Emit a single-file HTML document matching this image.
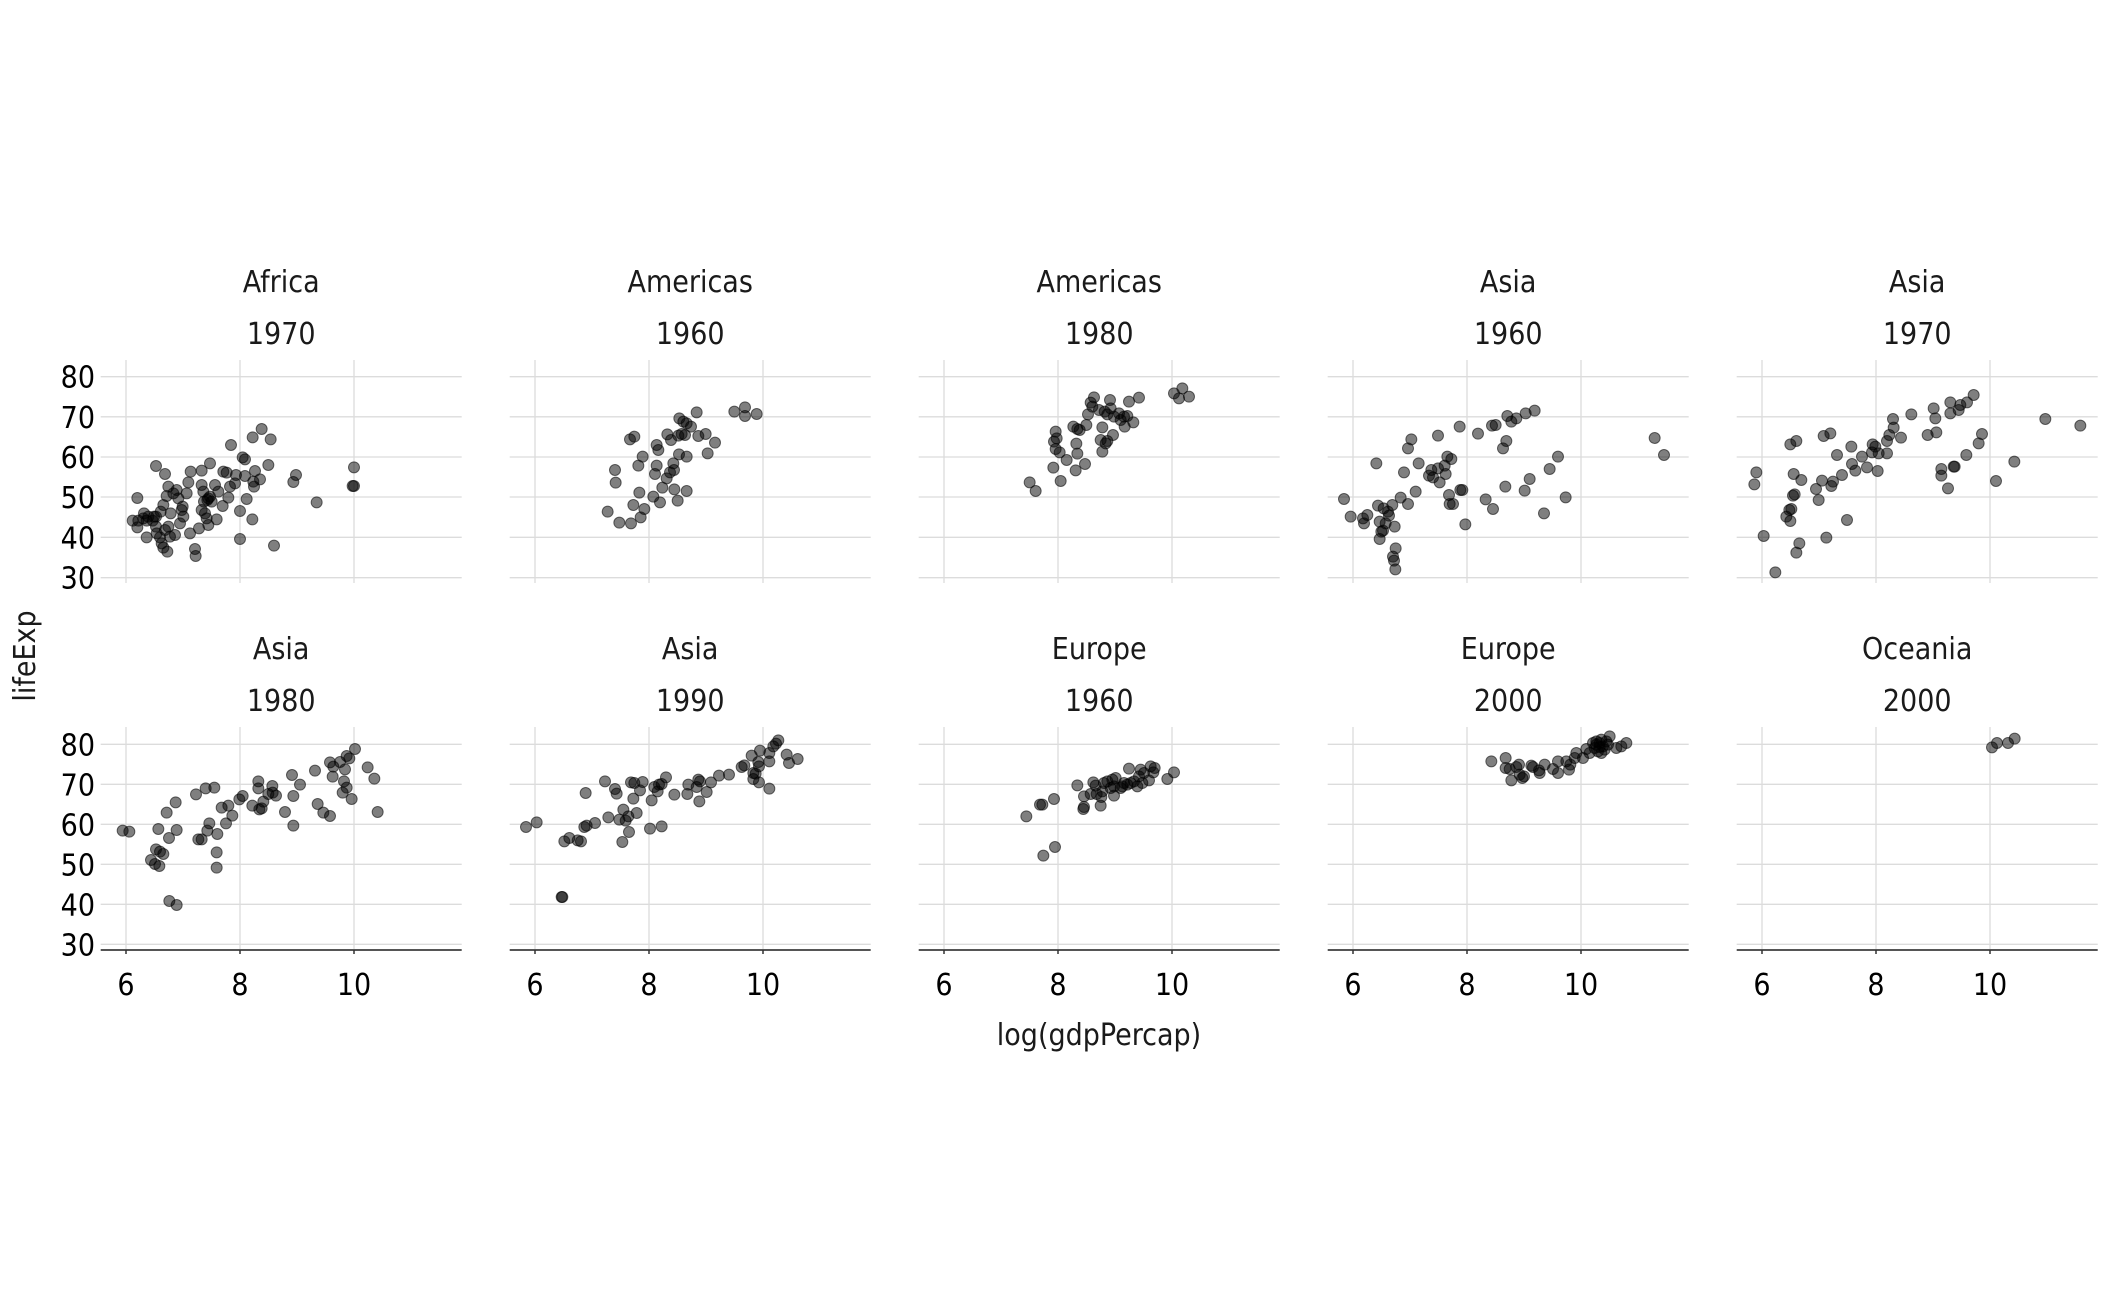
<!DOCTYPE html>
<html><head><meta charset="utf-8"><style>
html,body{margin:0;padding:0;background:#fff;}
svg{display:block;font-family:"Liberation Sans Narrow","DejaVu Sans Condensed","Liberation Sans",sans-serif;}
.g{stroke:#dcdcdc;stroke-width:1.3;}
.pts circle{fill:rgba(0,0,0,0.5);stroke:rgba(0,0,0,0.55);stroke-width:3;}
.t{font-size:30px;fill:#1a1a1a;text-anchor:middle;}
.tk{font-size:30px;fill:#000;}
</style></head><body>
<svg id="s" width="2112" height="1305" viewBox="0 0 2112 1305" xmlns="http://www.w3.org/2000/svg"></svg>
<script>
var S=document.getElementById('s'),h="";
var titles=[["Africa","1970"],["Americas","1960"],["Americas","1980"],["Asia","1960"],["Asia","1970"],["Asia","1980"],["Asia","1990"],["Europe","1960"],["Europe","2000"],["Oceania","2000"]];
var data=[
[0,250,[[412,744],[398,812],[415,812],[430,805],[440,812],[412,832],[432,790],[445,800],[458,812],[462,800],[440,862],[468,800],[468,830],[470,850],[480,862],[485,880],[490,893],[502,905],[482,785],[490,765],[495,840],[505,830],[510,860],[525,855],[512,790],[500,738],[505,710],[495,672],[468,648],[520,730],[530,720],[535,745],[545,780],[548,770],[550,800],[540,820],[560,730],[565,697],[572,665],[570,850],[585,897],[587,918],[597,835],[605,662],[605,705],[610,725],[605,780],[612,755],[615,790],[620,805],[622,750],[625,745],[630,740],[625,825],[630,640],[635,755],[645,705],[650,808],[655,725],[668,768],[670,665],[680,668],[685,743],[690,710],[693,585],[705,700],[708,675],[720,783],[720,867],[728,622],[735,628],[735,678],[740,747],[757,808],[758,562],[760,695],[762,710],[765,663],[780,688],[785,537],[805,645],[812,568],[822,887],[880,696],[888,675],[950,757],[1058,708],[1062,708],[1062,652]]],
[505,355,[[308,470],[343,503],[378,505],[407,487],[418,462],[385,450],[403,413],[330,345],[332,383],[400,332],[413,305],[375,253],[388,245],[455,270],[460,285],[455,332],[450,357],[445,425],[465,442],[472,398],[485,370],[495,352],[505,325],[507,345],[508,403],[518,437],[545,408],[522,298],[545,305],[487,238],[498,255],[520,242],[530,237],[540,240],[523,190],[535,200],[545,205],[558,215],[575,172],[580,243],[602,237],[630,263],[608,295],[688,170],[720,157],[720,183],[755,177]]],
[914,355,[[347,382],[365,408],[418,338],[440,378],[425,230],[420,260],[428,250],[425,282],[437,292],[458,315],[485,346],[513,327],[490,296],[487,266],[478,215],[490,222],[497,225],[517,210],[522,178],[530,143],[540,127],[535,155],[555,165],[565,217],[560,255],[565,290],[575,265],[580,258],[597,240],[572,170],[580,178],[588,135],[590,160],[600,185],[615,175],[620,195],[630,185],[632,215],[640,183],[658,202],[645,140],[675,128],[780,115],[805,100],[795,130],[825,125]]],
[1323,355,[[63,432],[83,485],[120,490],[123,505],[133,480],[165,452],[182,460],[195,470],[208,450],[198,482],[170,500],[180,527],[175,530],[170,552],[188,505],[215,515],[218,580],[210,605],[213,617],[217,643],[233,428],[255,447],[278,410],[243,352],[160,325],[255,280],[265,253],[287,325],[318,362],[325,345],[330,367],[350,382],[345,340],[365,332],[368,357],[373,305],[385,312],[378,420],[380,447],[390,447],[412,405],[418,405],[427,508],[345,242],[410,215],[465,236],[507,212],[518,210],[488,433],[510,462],[547,395],[540,280],[550,258],[553,183],[565,200],[580,190],[608,175],[635,167],[605,407],[620,372],[663,475],[680,342],[705,305],[728,427],[995,249],[1023,300]]],
[1732,355,[[130,652],[95,543],[67,388],[73,352],[193,593],[202,565],[283,548],[345,495],[163,485],[172,465],[178,462],[175,498],[183,422],[188,418],[185,357],[208,375],[175,268],[193,258],[260,435],[252,402],[270,377],[298,393],[303,380],[330,360],[315,300],[360,327],[370,347],[358,275],[275,243],[295,235],[390,305],[405,337],[420,292],[422,268],[430,275],[440,295],[437,348],[465,295],[465,258],[472,240],[485,218],[483,192],[507,248],[538,178],[587,240],[613,232],[610,190],[605,160],[655,175],[655,142],[680,165],[685,150],[705,142],[725,120],[628,342],[628,362],[648,400],[665,335],[668,335],[703,300],[740,265],[750,237],[792,378],[847,320],[940,192],[1045,212]]],
[0,620,[[368,632],[388,635],[453,720],[465,732],[478,738],[468,688],[480,695],[490,702],[475,627],[500,578],[507,654],[530,630],[527,547],[508,843],[530,855],[588,523],[595,658],[605,658],[617,505],[643,503],[622,632],[628,610],[652,642],[650,697],[650,743],[665,563],[685,557],[678,610],[697,587],[718,538],[728,528],[757,557],[775,484],[775,505],[778,568],[785,565],[790,545],[805,522],[817,498],[818,518],[828,527],[855,576],[876,465],[880,528],[880,617],[900,494],[945,452],[953,552],[970,578],[990,588],[990,427],[998,470],[1000,440],[1020,426],[1028,518],[1035,448],[1032,484],[1040,503],[1040,408],[1048,415],[1055,537],[1065,387],[1103,442],[1123,476],[1133,576]]],
[505,723,[[63,312],[95,298],[170,522],[172,522],[178,355],[193,345],[218,352],[228,355],[238,312],[245,308],[270,300],[242,210],[300,175],[310,283],[330,198],[335,212],[343,290],[355,260],[352,357],[362,293],[370,280],[372,327],[385,227],[378,178],[388,180],[395,270],[405,202],[413,177],[435,317],[440,232],[448,192],[458,205],[462,185],[470,183],[470,310],[483,163],[508,215],[547,213],[550,185],[575,192],[580,170],[585,175],[583,235],[605,207],[618,178],[642,158],[672,155],[710,132],[718,127],[740,98],[745,150],[745,168],[752,152],[762,130],[760,117],[765,83],[762,178],[793,197],[793,115],[793,90],[805,70],[813,62],[820,52],[845,95],[852,120],[878,108]]],
[914,723,[[337,280],[378,245],[385,245],[420,228],[388,398],[423,372],[490,187],[508,258],[510,252],[510,220],[530,213],[538,178],[545,188],[548,213],[560,248],[562,222],[565,205],[570,180],[580,175],[590,195],[595,170],[600,218],[605,165],[620,195],[625,190],[630,180],[645,137],[650,180],[660,175],[670,190],[680,140],[685,180],[690,150],[705,172],[710,130],[718,148],[722,135],[760,168],[780,148],[600,190],[640,185],[675,160]]],
[1323,723,[[505,115],[548,105],[548,135],[560,138],[565,172],[580,132],[588,125],[590,155],[598,165],[603,160],[625,128],[630,132],[650,150],[648,142],[665,125],[690,138],[705,150],[705,115],[730,115],[738,140],[742,125],[755,105],[760,90],[780,105],[790,78],[800,90],[810,60],[820,55],[815,75],[830,60],[840,70],[835,90],[845,80],[850,55],[860,40],[855,65],[825,85],[880,75],[895,70],[910,60],[835,50],[830,72],[820,65]]],
[1732,723,[[780,73],[795,60],[828,60],[848,47]]]
];
for(var i=0;i<10;i++){
  var r=i<5?0:1,c=i%5,L=100.7+409*c,R=L+361;
  var ys=r==0?[376.7,416.8,457,497,537.3,577.7]:[744.3,784.3,824.3,864.3,904.3,944.3];
  var ptop=r==0?360:727,pbot=r==0?583:950;
  [25.3,139.3,253.3].forEach(function(d){h+='<line class="g" x1="'+(L+d)+'" y1="'+ptop+'" x2="'+(L+d)+'" y2="'+pbot+'"/>';});
  ys.forEach(function(y){h+='<line class="g" x1="'+L+'" y1="'+y+'" x2="'+R+'" y2="'+y+'"/>';});
  var cx=L+180.5, tb=r==0?292:659;
  h+='<text class="t" x="'+cx+'" y="'+tb+'">'+titles[i][0]+'</text>';
  h+='<text class="t" x="'+cx+'" y="'+(tb+52)+'">'+titles[i][1]+'</text>';
  if(r==1){
    h+='<line x1="'+L+'" y1="950" x2="'+R+'" y2="950" stroke="#555" stroke-width="2"/>';
    [["6",25.3],["8",139.3],["10",253.3]].forEach(function(t){
      h+='<line x1="'+(L+t[1])+'" y1="950" x2="'+(L+t[1])+'" y2="954" stroke="#333" stroke-width="1.5"/>';
      h+='<text class="tk" text-anchor="middle" x="'+(L+t[1])+'" y="995">'+t[0]+'</text>';});
  }
  if(c==0){
    ["80","70","60","50","40","30"].forEach(function(t,k){
      h+='<text class="tk" text-anchor="end" x="95" y="'+(ys[k]+11)+'">'+t+'</text>';});
  }
  var d=data[i];
  h+='<g class="pts" transform="translate('+d[0]+','+d[1]+') scale(0.33333)">';
  d[2].forEach(function(p){h+='<circle cx="'+p[0]+'" cy="'+p[1]+'" r="16.5"/>';});
  h+='</g>';
}
h+='<text class="t" transform="translate(35,656) rotate(-90)" x="0" y="0">lifeExp</text>';
h+='<text class="t" x="1099" y="1045">log(gdpPercap)</text>';
S.innerHTML=h;
</script>
</body></html>
